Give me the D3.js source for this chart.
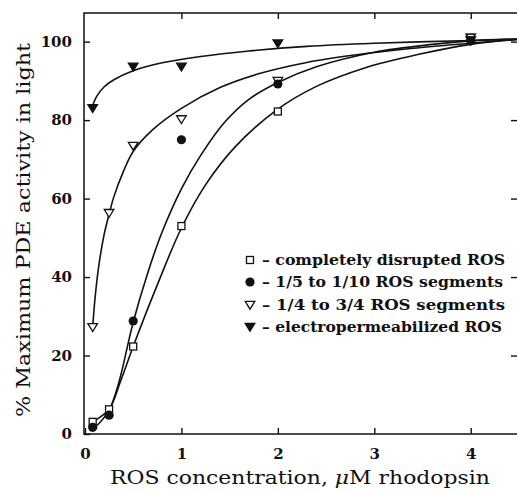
<!DOCTYPE html>
<html>
<head>
<meta charset="utf-8">
<script src="https://cdn.jsdelivr.net/npm/d3@7/dist/d3.min.js"></script>
<style>
  body { margin: 0; background: #fff; }
  svg text { fill: #111; }
</style>
</head>
<body>
<div id="chart"></div>
<script>
// measured points: x = uM rhodopsin, y = % max PDE activity
var disruptedX = [0.08, 0.25, 0.5, 1, 2, 4];
var disruptedY = [3.1, 6.3, 22.3, 53, 82.2, 101];
var fifthX = [0.08, 0.25, 0.5, 1, 2, 4];
var fifthY = [1.7, 4.8, 28.8, 75, 89.2, 100.2];
var quarterX = [0.08, 0.25, 0.5, 1, 2, 4];
var quarterY = [27.2, 56.3, 73.4, 80.2, 90, 101];
var electroX = [0.08, 0.5, 1, 2, 4];
var electroY = [83, 93.6, 93.6, 99.5, 100.3];

// fitted curves
var fitDisrupted = [[0.05,2],[0.09,3.1],[0.25,6.3],[0.37,13.5],[0.5,22.3],[0.75,38],[1.0,52.5],[1.25,63.5],[1.55,73],[2.0,82.8],[2.4,88.6],[2.9,93.3],[3.45,96.7],[4.0,99.3],[4.5,100.6]];
var fitFifth = [[0.05,0.8],[0.15,2.8],[0.25,6],[0.35,13],[0.5,28.5],[0.65,41],[0.8,51.5],[1.0,62.5],[1.2,71],[1.45,79.5],[1.7,85.3],[2.0,89.6],[2.4,93.6],[3.0,97.3],[3.6,99.3],[4.0,100.2],[4.5,100.7]];
var fitQuarter = [[0.08,27.3],[0.11,36],[0.15,44],[0.2,51],[0.25,56],[0.3,60.5],[0.4,67],[0.5,72],[0.7,77.5],[1.0,83],[1.4,88.3],[1.8,91.8],[2.3,94.7],[2.8,96.6],[3.4,98.3],[4.0,99.6],[4.5,100.6]];
var fitElectro = [[0.07,83],[0.12,86],[0.2,88.5],[0.3,90.3],[0.5,92.6],[0.8,94.6],[1.2,96.2],[1.7,97.6],[2.3,98.8],[3,99.6],[4,100.3],[4.5,100.7]];

var xTicks = [0, 1, 2, 3, 4];
var yTicks = [0, 20, 40, 60, 80, 100];
var legendLabels = ["completely disrupted ROS", "1/5 to 1/10 ROS segments", "1/4 to 3/4 ROS segments", "electropermeabilized ROS"];

var W = 517, H = 491;
var mLeft = 84, mRight = 518, mTop = 13, mBottom = 434;

var svg = d3.select("#chart").append("svg").attr("width", W).attr("height", H);

var x = d3.scaleLinear().domain([-0.01, 4.49]).range([mLeft, mRight]);
var y = d3.scaleLinear().domain([0, 107.3]).range([mBottom, mTop]);

var fontT = "DejaVu Serif, serif";

// frame
svg.append("rect").attr("x", mLeft).attr("y", mTop)
  .attr("width", mRight - mLeft).attr("height", mBottom - mTop)
  .attr("fill", "none").attr("stroke", "#111").attr("stroke-width", 1.5);

// axes with inward ticks
var gx = svg.append("g").attr("transform", "translate(0," + mBottom + ")")
  .call(d3.axisBottom(x).tickValues(xTicks).tickSizeInner(-6).tickSizeOuter(0).tickPadding(14).tickFormat(d3.format("d")));
var gxt = svg.append("g").attr("transform", "translate(0," + mTop + ")")
  .call(d3.axisTop(x).tickValues(xTicks.slice(1)).tickSizeInner(-6).tickSizeOuter(0).tickFormat(""));
var gy = svg.append("g").attr("transform", "translate(" + mLeft + ",0)")
  .call(d3.axisLeft(y).tickValues(yTicks).tickSizeInner(-6).tickSizeOuter(0).tickPadding(12).tickFormat(d3.format("d")));
var gyr = svg.append("g").attr("transform", "translate(" + (mRight - 1) + ",0)")
  .call(d3.axisRight(y).tickValues(yTicks.slice(1)).tickSizeInner(-6).tickSizeOuter(0).tickFormat(""));

[gx, gxt, gy, gyr].forEach(function(g){
  g.select(".domain").remove();
  g.selectAll("line").attr("stroke", "#111").attr("stroke-width", 1.4);
  g.selectAll("text").attr("font-family", fontT).attr("font-size", 15).attr("font-weight", "bold").attr("fill", "#111");
});

// curves
var line = d3.line().x(function(d){ return x(d[0]); }).y(function(d){ return y(d[1]); }).curve(d3.curveCatmullRom.alpha(0.5));
[fitDisrupted, fitFifth, fitQuarter, fitElectro].forEach(function(c){
  svg.append("path").attr("d", line(c)).attr("fill", "none").attr("stroke", "#111").attr("stroke-width", 1.6);
});

// markers
function marker(g, kind, cx, cy){
  if (kind == 0){
    g.append("rect").attr("x", cx - 3.5).attr("y", cy - 3.5).attr("width", 7).attr("height", 7)
      .attr("fill", "#fff").attr("stroke", "#111").attr("stroke-width", 1.3);
  } else if (kind == 1){
    g.append("circle").attr("cx", cx).attr("cy", cy).attr("r", 4.6).attr("fill", "#111");
  } else {
    g.append("path").attr("d", "M" + (cx - 4.8) + "," + (cy - 3.6) + "L" + (cx + 4.8) + "," + (cy - 3.6) + "L" + cx + "," + (cy + 4.2) + "Z")
      .attr("fill", kind == 3 ? "#111" : "#fff").attr("stroke", "#111").attr("stroke-width", 1.3);
  }
}
var sets = [[disruptedX, disruptedY], [fifthX, fifthY], [quarterX, quarterY], [electroX, electroY]];
var gm = svg.append("g");
[2, 0, 1, 3].forEach(function(k){
  sets[k][0].forEach(function(v, i){ marker(gm, k, x(v), y(sets[k][1][i])); });
});

// legend
var legY = [260, 282, 305, 327];
var legEnd = [505, 503, 505, 502];
legendLabels.forEach(function(t, i){
  marker(svg, i, 250, legY[i]);
  svg.append("text").attr("x", 262).attr("y", legY[i] + 5)
    .attr("font-family", fontT).attr("font-size", 14).attr("font-weight", "bold")
    .attr("textLength", legEnd[i] - 262).attr("lengthAdjust", "spacingAndGlyphs")
    .text("\u2013 " + t);
});

// axis titles
var xt = svg.append("text").attr("x", 110).attr("y", 484)
  .attr("font-family", fontT).attr("font-size", 19)
  .attr("textLength", 380).attr("lengthAdjust", "spacingAndGlyphs");
xt.append("tspan").text("ROS concentration, ");
xt.append("tspan").attr("font-style", "italic").text("\u03bc");
xt.append("tspan").text("M rhodopsin");

svg.append("text").attr("transform", "translate(30,417) rotate(-90)")
  .attr("font-family", fontT).attr("font-size", 19)
  .attr("textLength", 374).attr("lengthAdjust", "spacingAndGlyphs")
  .text("% Maximum PDE activity in light");
</script>
</body>
</html>
